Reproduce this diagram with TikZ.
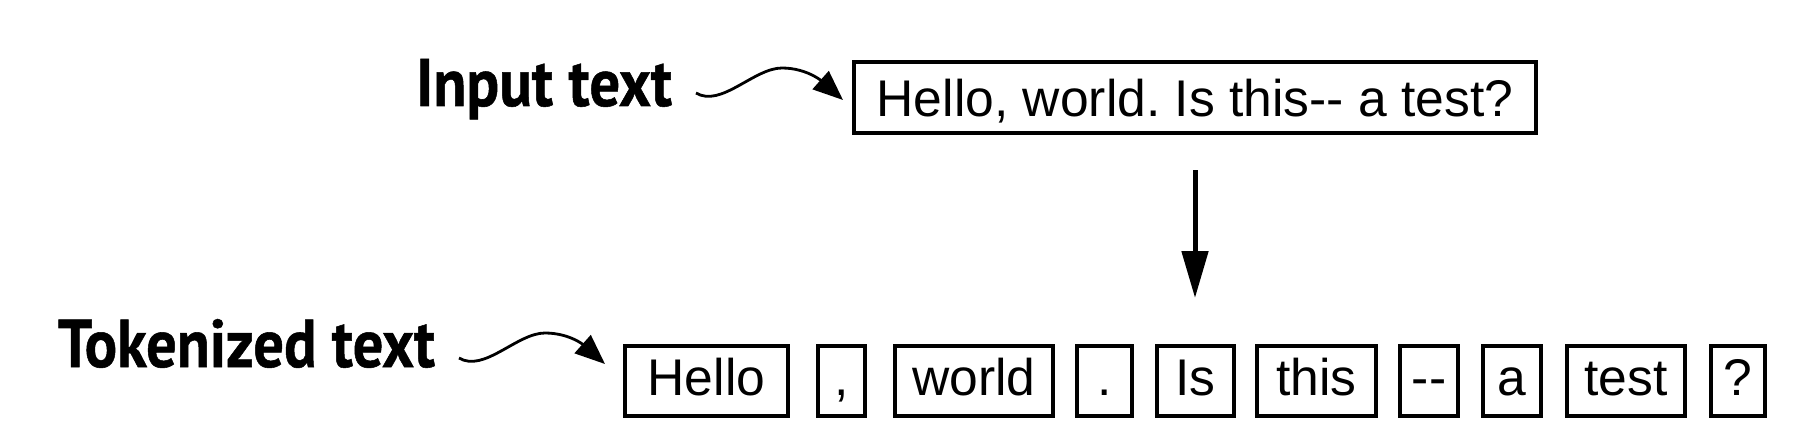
\documentclass[tikz,border=0pt]{standalone}
\usepackage{fontspec}
\newfontfamily\boxfont{Liberation Sans}
\newfontfamily\labfont{PT Sans}[BoldFeatures={FakeBold=0.8}]
\usetikzlibrary{arrows.meta,calc}
\frenchspacing
\tikzset{
  tok/.style={draw=black, line width=1pt, inner sep=0pt, outer sep=0pt,
    minimum height=17.5pt, text height=9.25pt, text depth=2.25pt,
    font=\boxfont\fontsize{12.9pt}{15pt}\selectfont},
  inbox/.style={tok, minimum height=17.75pt, text height=9.25pt, text depth=0pt},
  lab/.style={inner sep=0pt, outer sep=0pt, anchor=base west},
  curvy/.style={line width=0.7pt, -{Triangle[length=7.5pt,width=6pt]}},
  downarr/.style={line width=1.25pt, -{Triangle[length=11.75pt,width=6.5pt]}},
}
\begin{document}
\begin{tikzpicture}[x=0.25pt,y=-0.25pt]
\useasboundingbox (0,0) rectangle (1811,428);
% labels
\node[lab] (inlab) at (416,106) {\resizebox{64pt}{11.75pt}{\labfont\bfseries Input text}};
\node[lab] (toklab) at (58,367) {\resizebox{94.25pt}{12pt}{\labfont\bfseries Tokenized text}};
% input box
\node[inbox, minimum width=170.5pt] (inbox) at (1195,97.5) {Hello, world. Is this-\kern0pt- a test?};
% tokens
\node[tok, minimum width=40.75pt] (t1) at (706.5,381) {Hello};
\node[tok, minimum width=11.75pt] (t2) at (841.5,381) {,};
\node[tok, minimum width=39.5pt] (t3) at (974,381) {world};
\node[tok, minimum width=13.75pt] (t4) at (1104.5,381) {.};
\node[tok, minimum width=19.25pt] (t5) at (1195.5,381) {Is};
\node[tok, minimum width=29.75pt] (t6) at (1316.5,381) {this};
\node[tok, minimum width=14.5pt] (t7) at (1429,381) {-\kern0pt-};
\node[tok, minimum width=14.5pt] (t8) at (1512,381) {a};
\node[tok, minimum width=29.5pt] (t9) at (1626,381) {test};
\node[tok, minimum width=13.5pt] (t10) at (1738,381) {?};
% curvy arrows
\coordinate (inS) at ($(inlab.base east)+(24,-13)$);
\coordinate (inP) at ($(inS)+(86,-25)$);
\coordinate (inT) at ($(inbox.west)+(-11,2.5)$);
\draw[curvy] (inS) .. controls +(25,15) and +(-28,0) .. (inP) .. controls +(27,0) and +(-18,-16) .. (inT);
\coordinate (tkS) at ($(toklab.base east)+(24,-9)$);
\coordinate (tkP) at ($(tkS)+(86,-25)$);
\coordinate (tkT) at ($(t1.west)+(-20,-17)$);
\draw[curvy] (tkS) .. controls +(25,15) and +(-28,0) .. (tkP) .. controls +(27,0) and +(-18,-16) .. (tkT);
% down arrow
\draw[downarr, shorten <=9.25pt, shorten >=12pt] (inbox.south) -- (inbox.south |- t5.north);
\end{tikzpicture}
\end{document}
